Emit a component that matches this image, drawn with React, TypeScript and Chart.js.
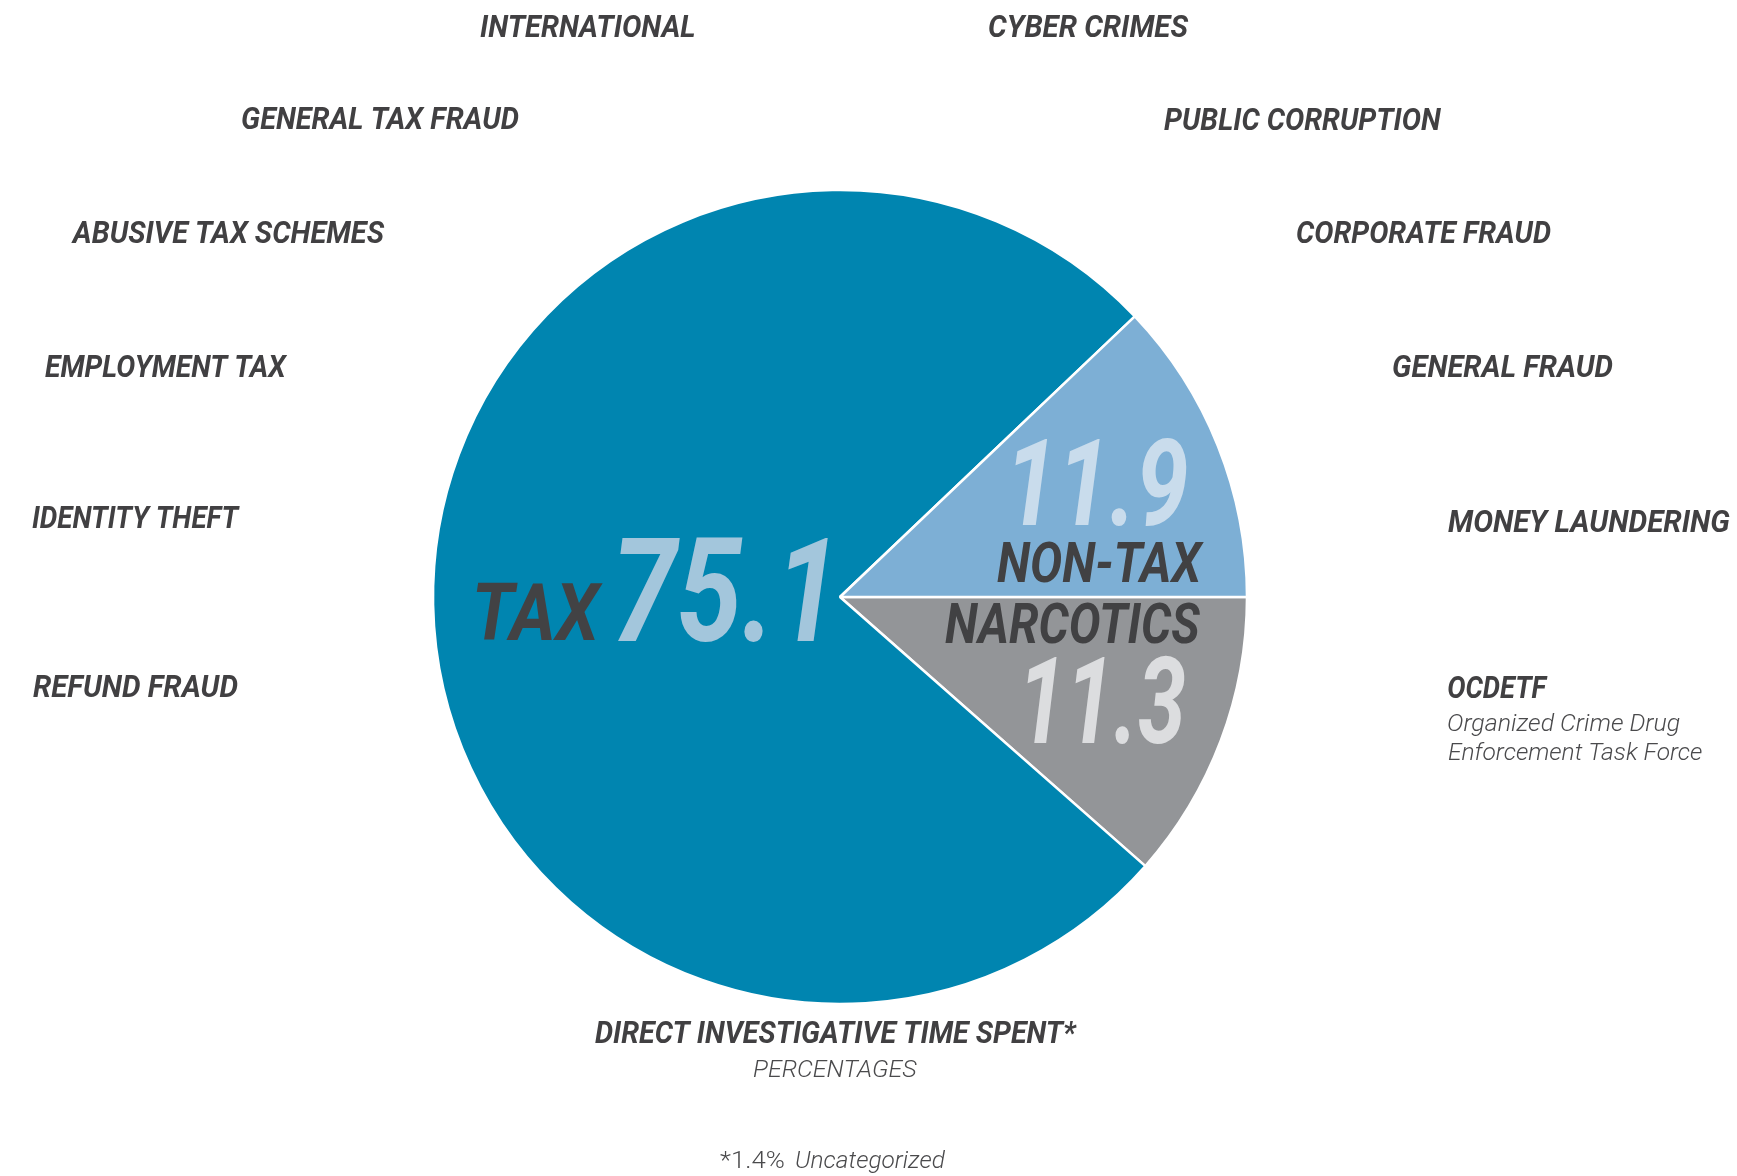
import React, { useEffect, useRef } from "react";
import { Chart, registerables } from "chart.js";

Chart.register(...registerables);

// ---- data ----
const categories = ["Narcotics", "Tax", "Non-Tax"];
const values = [11.3, 75.1, 11.9];
const sliceColors = ["#939598", "#0085B0", "#7DAFD5"];
const uncategorized = 1.4;

const taxSubcategories = [
  "INTERNATIONAL",
  "GENERAL TAX FRAUD",
  "ABUSIVE TAX SCHEMES",
  "EMPLOYMENT TAX",
  "IDENTITY THEFT",
  "REFUND FRAUD",
];
const nonTaxSubcategories = [
  "CYBER CRIMES",
  "PUBLIC CORRUPTION",
  "CORPORATE FRAUD",
  "GENERAL FRAUD",
  "MONEY LAUNDERING",
  "OCDETF",
];
const ocdetfNote = ["Organized Crime Drug", "Enforcement Task Force"];
const chartTitle = "DIRECT INVESTIGATIVE TIME SPENT*";
const chartSubtitle = "PERCENTAGES";

// ---- layout (annotation placement only) ----
// x = left ink edge, y = baseline, w = ink width
const taxLabelPos = [
  { x: 480, y: 37, w: 215 },
  { x: 242, y: 129, w: 277 },
  { x: 71, y: 243, w: 314 },
  { x: 45, y: 377, w: 243 },
  { x: 32, y: 528, w: 208 },
  { x: 33, y: 697, w: 205 },
];
const nonTaxLabelPos = [
  { x: 989, y: 37, w: 200 },
  { x: 1164, y: 130, w: 277 },
  { x: 1297, y: 243, w: 254 },
  { x: 1393, y: 377, w: 220 },
  { x: 1448, y: 532, w: 282 },
  { x: 1448, y: 698, w: 100 },
];

const DARK = "#414042";
const LIGHT_TEXT = "#4a4a4c";
const FAMILY = "Roboto, 'Liberation Sans', Arial, sans-serif";

function drawFitted(
  ctx: CanvasRenderingContext2D,
  text: string,
  x: number,
  y: number,
  w: number,
  cap: number,
  color: string,
  weight: string,
  italic: boolean
) {
  const size = cap / 0.711;
  ctx.save();
  ctx.font = `${italic ? "italic " : ""}${weight} ${size}px ${FAMILY}`;
  ctx.textAlign = "left";
  ctx.textBaseline = "alphabetic";
  const m = ctx.measureText(text);
  const inkW = m.actualBoundingBoxLeft + m.actualBoundingBoxRight;
  const sx = inkW > 0 ? w / inkW : 1;
  ctx.translate(x, y);
  ctx.scale(sx, 1);
  ctx.fillStyle = color;
  ctx.fillText(text, m.actualBoundingBoxLeft, 0);
  ctx.restore();
}

const textPlugin = {
  id: "textPlugin",
  afterDraw(chart: any) {
    const ctx: CanvasRenderingContext2D = chart.ctx;
    taxSubcategories.forEach((t, i) => {
      const p = taxLabelPos[i];
      drawFitted(ctx, t, p.x, p.y, p.w, 22.5, DARK, "bold", true);
    });
    nonTaxSubcategories.forEach((t, i) => {
      const p = nonTaxLabelPos[i];
      drawFitted(ctx, t, p.x, p.y, p.w, 22.5, DARK, "bold", true);
    });
    drawFitted(ctx, ocdetfNote[0], 1448, 731, 232, 17.5, LIGHT_TEXT, "300", true);
    drawFitted(ctx, ocdetfNote[1], 1448, 760, 254, 17.5, LIGHT_TEXT, "300", true);

    // in-pie labels
    const vals = chart.data.datasets[0].data as number[];
    const fmt = (v: number) => v.toFixed(1);
    drawFitted(ctx, "TAX", 476, 640, 127, 57, "#424244", "bold", true);
    drawFitted(ctx, fmt(vals[1]), 618, 641, 210, 102, "#A3C6DC", "bold", true);
    drawFitted(ctx, fmt(vals[2]), 1015, 525, 172, 86, "#C9DCEC", "bold", true);
    drawFitted(ctx, "NON-TAX", 997, 582, 207, 40, "#414143", "bold", true);
    drawFitted(ctx, "NARCOTICS", 945, 643, 255, 40, "#414143", "bold", true);
    drawFitted(ctx, fmt(vals[0]), 1027, 743, 158, 86, "#DCDDDF", "bold", true);

    // title block
    drawFitted(ctx, chartTitle, 595, 1043, 482, 22, DARK, "bold", true);
    drawFitted(ctx, chartSubtitle, 753, 1077, 164, 17, LIGHT_TEXT, "300", true);

    // footnote: "*1.4%" upright, "Uncategorized" italic
    drawFitted(ctx, `*${uncategorized}%`, 720, 1168, 64, 17, LIGHT_TEXT, "300", false);
    drawFitted(ctx, "Uncategorized", 796, 1168, 149, 17, LIGHT_TEXT, "300", true);
  },
};

export default function App() {
  const ref = useRef<HTMLCanvasElement | null>(null);
  useEffect(() => {
    document.body.style.margin = "0";
    const canvas = ref.current;
    if (!canvas) return;
    const chart = new Chart(canvas, {
      type: "pie",
      data: {
        labels: categories,
        datasets: [
          {
            data: values,
            backgroundColor: sliceColors,
            borderColor: "#ffffff",
            borderWidth: 2.5,
            radius: 407,
          } as any,
        ],
      },
      options: {
        responsive: false,
        animation: false,
        rotation: 90,
        layout: { padding: { left: 2, right: 59, top: 18, bottom: 0 } },
        plugins: {
          legend: { display: false },
          tooltip: { enabled: false },
        },
      },
      plugins: [textPlugin],
    });
    return () => chart.destroy();
  }, []);
  return (
    <div style={{ position: "absolute", left: 0, top: 0, width: 1737, height: 1176, background: "#fff" }}>
      <canvas ref={ref} width={1737} height={1176} />
    </div>
  );
}
